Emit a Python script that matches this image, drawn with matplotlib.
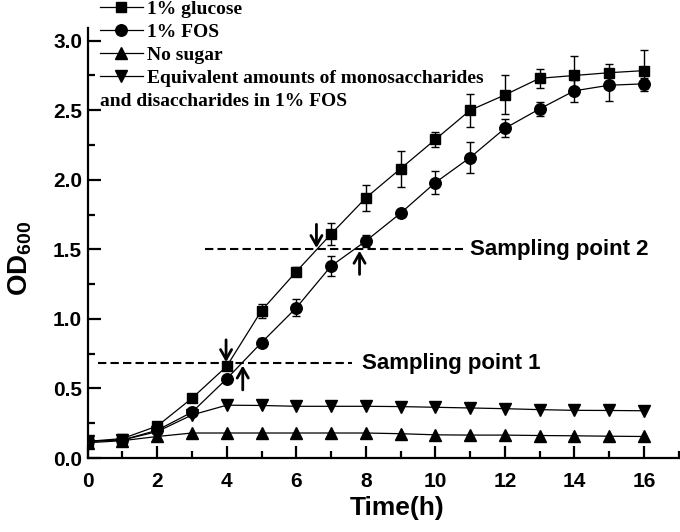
import numpy as np
import matplotlib
matplotlib.use("Agg")
from matplotlib import pyplot as plt
from matplotlib.ticker import MultipleLocator, FormatStrFormatter

# time points (h)
hours = np.arange(0, 17)

# OD600 readings
glucose = [0.12, 0.14, 0.23, 0.43, 0.66, 1.06, 1.34, 1.61, 1.87, 2.08,
           2.29, 2.50, 2.61, 2.73, 2.75, 2.77, 2.785]
glucose_err = [0.01, 0.01, 0.01, 0.02, 0.02, 0.05, 0.03, 0.08, 0.095, 0.13,
               0.056, 0.12, 0.14, 0.07, 0.14, 0.06, 0.15]
fos = [0.12, 0.13, 0.20, 0.33, 0.57, 0.83, 1.08, 1.38, 1.56, 1.76,
       1.98, 2.16, 2.37, 2.51, 2.64, 2.68, 2.69]
fos_err = [0.01, 0.01, 0.01, 0.02, 0.02, 0.03, 0.06, 0.07, 0.04, 0.02,
           0.08, 0.11, 0.065, 0.05, 0.08, 0.11, 0.04]
no_sugar = [0.11, 0.125, 0.155, 0.18, 0.18, 0.18, 0.18, 0.18, 0.18, 0.175,
            0.167, 0.165, 0.165, 0.162, 0.16, 0.157, 0.155]
mono_di = [0.12, 0.13, 0.19, 0.31, 0.38, 0.378, 0.372, 0.372, 0.372, 0.37,
           0.365, 0.36, 0.355, 0.348, 0.343, 0.342, 0.34]

labels = ["1% glucose", "1% FOS", "No sugar",
          "Equivalent amounts of monosaccharides"]
label_tail = "and disaccharides in 1% FOS"

# sampling lines
samp_y = [0.68, 1.50]
samp_x0 = [0.29, 3.37]
samp_x1 = [7.6, 10.8]
samp_text_x = [7.9, 11.0]
samp_labels = ["Sampling point 1", "Sampling point 2"]

# arrows: x, tail y, head y
arrow_x = [3.98, 4.46, 6.58, 7.82]
arrow_tail = [0.85, 0.49, 1.68, 1.32]
arrow_head = [0.69, 0.665, 1.51, 1.49]

sans = ["Liberation Sans", "DejaVu Sans"]
plt.rcParams["font.family"] = sans
plt.rcParams["mathtext.fontset"] = "custom"
plt.rcParams["mathtext.bf"] = "Liberation Sans:bold"
plt.rcParams["mathtext.rm"] = "Liberation Sans:bold"

fig = plt.figure(figsize=(6.8, 5.32), dpi=100)
ax = fig.add_axes([0.129, 0.139, 0.869, 0.808])

series = [(glucose, glucose_err, "s", 7.5), (fos, fos_err, "o", 8.3),
          (no_sugar, None, "^", 8), (mono_di, None, "v", 8)]
handles = []
for (vals, err, mk, ms), lab in zip(series, labels):
    if err is not None:
        ax.errorbar(hours, vals, yerr=err, fmt="none", ecolor="black",
                    elinewidth=1, capsize=3, capthick=1, zorder=2)
    h, = ax.plot(hours, vals, color="black", lw=0.9, marker=mk,
                 markersize=ms, label=lab, zorder=3)
    handles.append(h)

for y, x0, x1, tx, lab in zip(samp_y, samp_x0, samp_x1, samp_text_x, samp_labels):
    ax.plot([x0, x1], [y, y], color="black", lw=1.5, ls=(0, (4, 2)))
    ax.text(tx, y, lab, fontsize=16, fontweight="bold", va="center")

for x, t, hd in zip(arrow_x, arrow_tail, arrow_head):
    ax.annotate("", xy=(x, hd), xytext=(x, t),
                arrowprops=dict(arrowstyle="->,head_length=0.35,head_width=0.2",
                                color="black", lw=2, mutation_scale=20,
                                shrinkA=0, shrinkB=0))

ax.set_xlim(0, 17.0)
ax.set_ylim(0, 3.09)
ax.xaxis.set_major_locator(MultipleLocator(2))
ax.xaxis.set_minor_locator(MultipleLocator(1))
ax.yaxis.set_major_locator(MultipleLocator(0.5))
ax.yaxis.set_minor_locator(MultipleLocator(0.25))
ax.yaxis.set_major_formatter(FormatStrFormatter("%.1f"))
ax.spines["top"].set_visible(False)
ax.spines["right"].set_visible(False)
for s in ["left", "bottom"]:
    ax.spines[s].set_linewidth(1.6)
ax.tick_params(which="major", direction="in", length=9, width=1.6,
               labelsize=15)
ax.tick_params(which="minor", direction="in", length=5, width=1.6)
ax.tick_params(axis="x", which="major", pad=10)
ax.tick_params(axis="y", which="major", pad=4)
for t in ax.get_xticklabels() + ax.get_yticklabels():
    t.set_fontweight("bold")

ax.set_xlabel("Time(h)", fontsize=19, fontweight="bold", labelpad=4, x=0.524)
ax.set_ylabel(r"OD$_{\mathbf{600}}$", fontsize=20, fontweight="bold",
              labelpad=14, y=0.465)

leg = fig.legend(handles=handles, loc="upper left",
                 bbox_to_anchor=(0.147, 0.999), frameon=False, borderpad=0,
                 borderaxespad=0, labelspacing=0.27, handlelength=2.2,
                 handletextpad=0.2,
                 prop={"family": "Liberation Serif", "weight": "bold", "size": 14})
fig.text(0.147, 0.810, label_tail, fontsize=14, fontweight="bold",
         family="Liberation Serif", va="center")

fig.savefig("out.png", dpi=100)
